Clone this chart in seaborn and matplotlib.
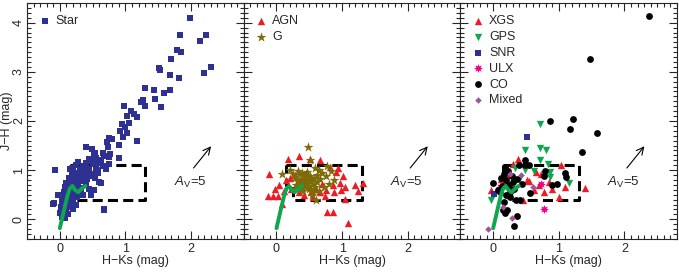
import numpy as np
import pandas as pd
import matplotlib
matplotlib.use("Agg")
import matplotlib.pyplot as plt
from matplotlib.ticker import MultipleLocator
import seaborn as sns

# ---- data (H-Ks, J-H) ----
star_x = [1.98, 1.83, 2.22, 2.13, 1.78, 1.85, 1.70, 2.31, 2.20, 1.51, 1.52, 1.68, 1.82, 1.29, 1.44,
          1.68, 1.59, 1.45, 1.27, 1.23, 1.29, 1.54, 0.98, 1.09, 1.13, 1.03, 1.18, 1.06, 0.94, 1.00,
          0.92, 1.02, 0.96, 1.18, 0.90, 0.75, 0.80, 0.72, 0.73, 0.40, 0.49, 0.66, 0.77, 0.54, 0.90,
          0.75, -0.08, -0.10, -0.03, 0.67, 0.62,
          0.03, 0.06, 0.08, 0.10, 0.05, 0.12,
          0.02, 0.05, 0.08, 0.11, 0.14, 0.07, 0.17, 0.20, 0.24, 0.03,
          0.04, 0.08, 0.12, 0.15, 0.18, 0.22, 0.26, 0.10, 0.30, 0.35, 0.20, 0.06,
          0.08, 0.12, 0.16, 0.20, 0.24, 0.28, 0.32, 0.36, 0.40, 0.14, 0.44, 0.18, 0.26, 0.10,
          0.14, 0.18, 0.22, 0.26, 0.30, 0.34, 0.38, 0.42, 0.46, 0.50, 0.20, 0.32, 0.54, 0.40, 0.28, 0.58,
          0.20, 0.25, 0.30, 0.35, 0.40, 0.45, 0.50, 0.55, 0.60, 0.65, 0.70, 0.38, 0.48, 0.58, 0.28, 0.75,
          0.45, 0.55, 0.62, 0.68, 0.52,
          0.52, 0.59, 0.47, 0.67, -0.09, 0.00, 0.33, 0.42, 0.16, 0.22]
star_y = [4.09, 3.74, 3.74, 3.62, 3.45, 3.41, 3.27, 3.10, 2.98, 3.07, 3.03, 2.94, 2.87, 2.68, 2.63,
          2.63, 2.56, 2.44, 2.42, 2.38, 2.31, 2.28, 2.30, 2.21, 2.15, 2.11, 2.09, 1.95, 1.93, 1.87,
          1.80, 1.75, 1.68, 1.59, 1.52, 1.66, 1.64, 1.57, 1.47, 1.47, 1.43, 1.35, 1.33, 1.35, 1.25,
          1.27, 1.00, 0.31, 0.49, 0.20, 0.74,
          0.05, 0.12, 0.02, 0.18, 0.20, 0.10,
          0.25, 0.30, 0.28, 0.35, 0.26, 0.38, 0.33, 0.22, 0.30, 0.36,
          0.45, 0.50, 0.44, 0.55, 0.48, 0.52, 0.45, 0.58, 0.56, 0.50, 0.42, 0.55,
          0.65, 0.70, 0.62, 0.75, 0.68, 0.72, 0.64, 0.78, 0.70, 0.78, 0.62, 0.68, 0.80, 0.74,
          0.85, 0.92, 0.86, 0.95, 0.88, 0.92, 0.84, 0.96, 0.88, 0.93, 0.98, 0.98, 0.85, 0.90, 0.82, 0.95,
          1.05, 1.10, 1.02, 1.08, 1.15, 1.03, 1.12, 1.05, 1.15, 1.08, 1.02, 1.00, 1.18, 1.00, 1.16, 1.12,
          1.22, 1.25, 1.20, 1.28, 1.30,
          0.59, 0.76, 0.49, 0.19, 0.33, 0.12, 0.60, 0.82, 1.02, 0.62]

agn_x = [0.18, 0.34, 0.51, 0.67, -0.12, 0.04, -0.02, -0.13, -0.05, 0.03, 0.08, 0.77, 0.86, 1.09,
         0.93, 1.02, 1.20, 1.24, 1.31, 1.05, 0.96, 1.04, 0.86, 0.76, 0.66, 0.56, 0.81, 0.91,
         0.15, 0.22, 0.28, 0.35, 0.42, 0.60, 0.70, 0.88, 0.98, 0.12, 0.20, 0.30, 0.45, 0.52, 0.74]
agn_y = [1.23, 1.28, 1.23, 1.20, 0.93, 0.69, 0.61, 0.47, 0.47, 0.47, 0.32, 0.15, 0.15, -0.08,
         1.04, 0.88, 0.69, 0.58, 0.74, 0.42, 0.73, 0.66, 0.69, 0.59, 0.56, 0.46, 1.06, 0.96,
         0.80, 0.62, 0.90, 0.55, 0.50, 0.62, 0.72, 0.55, 0.60, 0.58, 0.85, 0.70, 0.95, 0.55, 0.48]

g_x = [0.48, 0.51, 0.09, 0.21, 0.60, 0.77, 0.65, 0.88,
       0.28, 0.32, 0.35, 0.38, 0.40, 0.42, 0.45, 0.48, 0.50, 0.52, 0.55, 0.58, 0.62, 0.30,
       0.36, 0.44, 0.47, 0.53, 0.57, 0.25, 0.33, 0.39, 0.43, 0.49, 0.56, 0.61, 0.70, 0.75,
       0.80, 0.72, 0.66, 0.41, 0.46, 0.37, 0.54, 0.29, 0.64, 0.83, 0.51, 0.44, 0.35, 0.59]
g_y = [1.47, 1.21, 0.92, 1.00, 0.40, 1.08, 1.00, 0.80,
       0.85, 0.78, 0.92, 0.70, 0.80, 0.88, 0.75, 0.83, 0.68, 0.78, 0.72, 0.66, 0.75, 0.70,
       0.62, 0.65, 0.90, 0.60, 0.85, 0.92, 0.98, 0.95, 0.72, 0.62, 0.55, 0.90, 0.95, 0.88,
       0.72, 0.65, 0.82, 0.58, 0.96, 0.82, 0.50, 0.62, 0.58, 0.98, 0.88, 0.70, 0.75, 1.05]

xgs_x = [0.38, 0.30, 1.04, 0.65, 0.73, 0.52, 0.55, 0.85, 1.09, 1.40, 1.01, 0.45, 0.78, 0.70,
         0.10, 0.23, -0.03, 0.18, 0.27, 0.62, 0.90, 0.12]
xgs_y = [1.23, 1.13, 1.11, 0.96, 0.93, 0.79, 0.77, 0.76, 0.66, 0.63, 0.46, 0.39, 0.56, 0.69,
         0.66, 0.90, 0.59, 0.75, 0.62, 0.60, 0.62, 0.82]

gps_x = [0.71, 0.49, 0.72, 0.81, 0.71, 0.83, 0.86, -0.03, 0.33, 0.49, 1.15, 0.86, 0.15, 0.62, 0.40]
gps_y = [1.94, 1.42, 1.45, 1.41, 1.21, 1.13, 0.96, 0.39, 1.05, 1.01, 0.73, 0.86, 0.66, 0.98, 0.80]

snr_x = [0.52, 0.01]
snr_y = [1.67, 0.51]

ulx_x = [0.77, 0.73, 0.10]
ulx_y = [0.22, 0.71, 0.66]

co_x = [2.37, 1.47, 1.21, 1.17, 1.58, 0.86, 1.35, 0.49, 0.54, 0.79, 1.10, 1.11, 0.90, 0.97, 0.78,
        0.56, 0.00, 0.15, 0.21, 0.18, 0.37, 0.32, 0.10, 0.41, 0.35, 0.18, 0.40, 0.48,
        0.12, 0.16, 0.20, 0.24, 0.28, 0.32, 0.22, 0.26, 0.14, 0.30, 0.36, 0.08, 0.20, 0.44, 0.25, 0.17]
co_y = [4.13, 3.27, 2.04, 1.84, 1.76, 1.99, 1.36, 1.21, 1.11, 0.98, 0.94, 0.86, 0.69, 0.71, 0.88,
        0.53, 0.73, 0.19, 0.18, 0.12, 0.07, -0.13, 0.56, 0.39, 0.40, 1.06, 1.10, 1.11,
        0.85, 0.92, 0.80, 0.70, 0.88, 0.62, 0.98, 0.55, 0.68, 0.75, 0.82, 0.60, 0.50, 0.72, 0.45, 0.35]

mixed_x = [-0.08, 0.29, 0.15, 0.43, 0.60, 0.25]
mixed_y = [-0.20, 0.02, 0.26, 0.90, 0.66, 0.93]

# intrinsic colour track and selection box
track_x = [0.00, 0.04, 0.08, 0.12, 0.15, 0.19, 0.23, 0.28, 0.33, 0.39]
track_y = [-0.18, 0.05, 0.28, 0.50, 0.62, 0.68, 0.60, 0.55, 0.62, 0.68]
box_x = [0.15, 1.30, 1.30, 0.25, 0.25, 0.15, 0.15]
box_y = [1.10, 1.10, 0.40, 0.40, 0.70, 0.70, 1.10]

BLUE = "#2e3192"
RED = "#ed1c24"
OLIVE = "#7d6b08"
GREEN = "#0fa650"
MAGENTA = "#ec008c"
PURPLE = "#a3519f"

sns.set_style("ticks")
plt.rcParams["font.family"] = ["Liberation Sans", "DejaVu Sans"]
plt.rcParams["mathtext.fontset"] = "custom"
plt.rcParams["mathtext.rm"] = "Liberation Sans"
plt.rcParams["mathtext.it"] = "Liberation Sans:italic"
plt.rcParams["font.size"] = 9

fig, axes = plt.subplots(1, 3, figsize=(6.79, 2.79), dpi=100, sharey=True)
fig.subplots_adjust(left=27 / 679, right=677 / 679, bottom=40 / 279, top=276 / 279, wspace=0)

panels = [
    [("Star", star_x, star_y, BLUE, "s", 24)],
    [("AGN", agn_x, agn_y, RED, "^", 28), ("G", g_x, g_y, OLIVE, "*", 55)],
    [("XGS", xgs_x, xgs_y, RED, "^", 28), ("GPS", gps_x, gps_y, GREEN, "v", 28),
     ("SNR", snr_x, snr_y, BLUE, "s", 24), ("ULX", ulx_x, ulx_y, MAGENTA, (8, 1, 0), 42),
     ("CO", co_x, co_y, "black", "o", 24), ("Mixed", mixed_x, mixed_y, PURPLE, "D", 11)],
]

for ax, groups in zip(axes, panels):
    ax.plot(box_x, box_y, color="black", lw=2.2, ls=(0, (3.3, 1.7)), zorder=2)
    for name, xs, ys, col, mk, sz in groups:
        df = pd.DataFrame({"x": xs, "y": ys})
        sns.scatterplot(data=df, x="x", y="y", ax=ax, color=col, marker=mk, s=sz,
                        linewidth=0, label=name, zorder=3)
    sns.lineplot(x=track_x, y=track_y, ax=ax, color=GREEN, lw=2.8, sort=False,
                 estimator=None, zorder=4)
    ax.annotate("", xy=(2.33, 1.53), xytext=(2.01, 1.0),
                arrowprops=dict(arrowstyle="->", lw=0.8, color="black", mutation_scale=13))
    ax.text(1.98, 0.76, r"$A_{\rm V}$=5", ha="center", va="center", fontsize=9.5)
    ax.legend(loc="upper left", frameon=False, handlelength=0.8, handletextpad=0.5,
              labelspacing=0.3, borderaxespad=0.6, fontsize=9, markerscale=1.0)
    ax.set_xlim(-0.5, 2.8)
    ax.set_ylim(-0.4, 4.4)
    ax.set_xticks([0, 1, 2])
    ax.set_yticks([0, 1, 2, 3, 4])
    ax.xaxis.set_minor_locator(MultipleLocator(0.1))
    ax.yaxis.set_minor_locator(MultipleLocator(0.1))
    ax.tick_params(which="both", direction="in", top=True, right=True, width=0.8)
    ax.tick_params(which="major", length=5.8, labelsize=9)
    ax.tick_params(axis="x", which="major", pad=3)
    ax.tick_params(axis="y", which="major", pad=1.5)
    ax.tick_params(which="minor", length=2.9)
    ax.set_xlabel("H\u2212Ks (mag)", fontsize=9, labelpad=0)
    ax.set_ylabel("")
    for sp in ax.spines.values():
        sp.set_linewidth(0.8)

axes[0].set_ylabel("J\u2212H (mag)", fontsize=9, labelpad=0)
for lab in axes[0].get_yticklabels():
    lab.set_rotation(90)
    lab.set_va("center")
for ax in axes[1:]:
    ax.tick_params(labelleft=False)

fig.savefig("out.png", dpi=100)
